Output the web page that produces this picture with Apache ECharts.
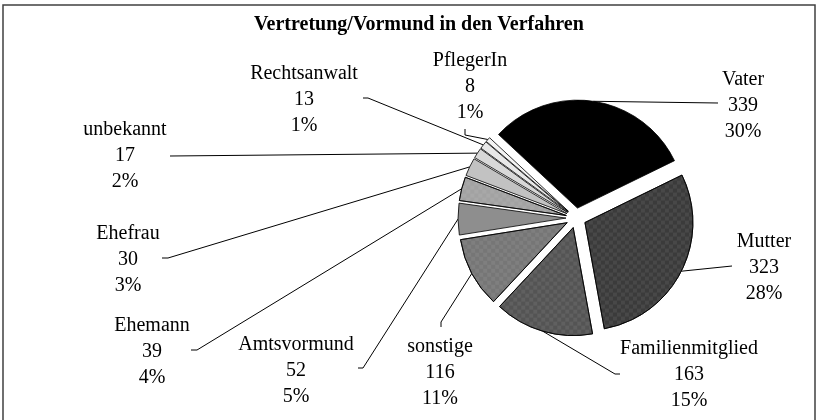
<!DOCTYPE html>
<html><head><meta charset="utf-8">
<script src="https://cdn.jsdelivr.net/npm/echarts@6/dist/echarts.min.js"></script>
<style>html,body{margin:0;padding:0;background:#fff}#c{width:824px;height:420px}</style>
</head><body><div id="c"></div>
<script>
const chartTitle = 'Vertretung/Vormund in den Verfahren';
const categories = ['Vater','Mutter','Familienmitglied','sonstige','Amtsvormund','Ehemann','Ehefrau','unbekannt','Rechtsanwalt','PflegerIn'];
const values = [339,323,163,116,52,39,30,17,13,8];
const percentLabels = ['30%','28%','15%','11%','5%','4%','3%','2%','1%','1%'];
const sliceColors = ['#000000','#3b3b3b','#545454','#767676','#8e8e8e','#a2a2a2','#c2c2c2','#d8d8d8','#e8e8e8','#f4f4f4'];
const checkered = [false,true,true,true,false,true,false,false,false,false];
// label text-block centres and leader line knee/end points (label placement only)
const labelPos = [[743,106],[764,268],[689,375],[440,373],[296,371],[152,352],[128,260],[125,156],[304,100],[470,87]];
const leaderKnee = [[718,103],[732,266],[615,374],[441,322],[363,368],[197,350],[168,258],[170,156],[368,98],[465,135]];
const leaderEnd  = [[718,103],[732,266],[620,374],[441,327],[358,368],[191,350],[162,258],[170,156],[363,98],[465,129]];

const PIE_CENTER = [576, 218];
const PIE_RADIUS = 108;
const EXPLODE = 10;
const START_ANGLE = 137;

const chart = echarts.init(document.getElementById('c'), null, {renderer:'canvas'});
const sliceData = categories.map((name, i) => ({
  name: name,
  value: values[i],
  selected: true,
  itemStyle: Object.assign({color: sliceColors[i]}, checkered[i] ? {decal: {
    symbol: 'rect', symbolSize: 1, color: 'rgba(255,255,255,0.07)',
    dashArrayX: [[4,4],[0,4,4,0]], dashArrayY: [4,0], rotation: 0
  }} : {})
}));
const labelData = categories.map((name, i) => ({name: name, value: values[i]}));
chart.setOption({
  animation: false,
  backgroundColor: '#ffffff',
  title: {
    text: chartTitle, left: 254, top: 15, padding: 0,
    textStyle: {fontFamily: 'Liberation Serif', fontSize: 20, fontWeight: 'bold', color: '#000'}
  },
  graphic: [{
    type: 'rect', silent: true,
    shape: {x: 3, y: 5, width: 812, height: 430},
    style: {fill: 'none', stroke: '#404040', lineWidth: 1.5}
  }],
  series: [{
    type: 'pie',
    center: PIE_CENTER,
    radius: PIE_RADIUS,
    startAngle: START_ANGLE,
    clockwise: true,
    selectedMode: 'multiple',
    selectedOffset: EXPLODE,
    emphasis: {disabled: true},
    select: {itemStyle: {borderColor: '#000', borderWidth: 0.8}},
    itemStyle: {borderColor: '#000', borderWidth: 0.8},
    label: {show: false},
    labelLine: {show: false},
    data: sliceData
  }, {
    type: 'pie',
    silent: true,
    center: PIE_CENTER,
    radius: PIE_RADIUS + EXPLODE,
    startAngle: START_ANGLE,
    clockwise: true,
    avoidLabelOverlap: false,
    emphasis: {disabled: true},
    itemStyle: {color: 'rgba(0,0,0,0)', borderWidth: 0},
    label: {
      show: true, position: 'outside',
      fontFamily: 'Liberation Serif', fontSize: 20, lineHeight: 26, color: '#000',
      formatter: p => p.name + '\n' + p.value + '\n' + percentLabels[p.dataIndex]
    },
    labelLine: {show: true, length: 10, length2: 10, smooth: false, lineStyle: {color: '#000', width: 1}},
    labelLayout: function (params) {
      const i = params.dataIndex;
      const pts = params.labelLinePoints;
      const out = {x: labelPos[i][0], y: labelPos[i][1], align: 'center', verticalAlign: 'middle'};
      if (pts) out.labelLinePoints = [pts[0], leaderKnee[i], leaderEnd[i]];
      return out;
    },
    data: labelData
  }]
});
</script></body></html>
